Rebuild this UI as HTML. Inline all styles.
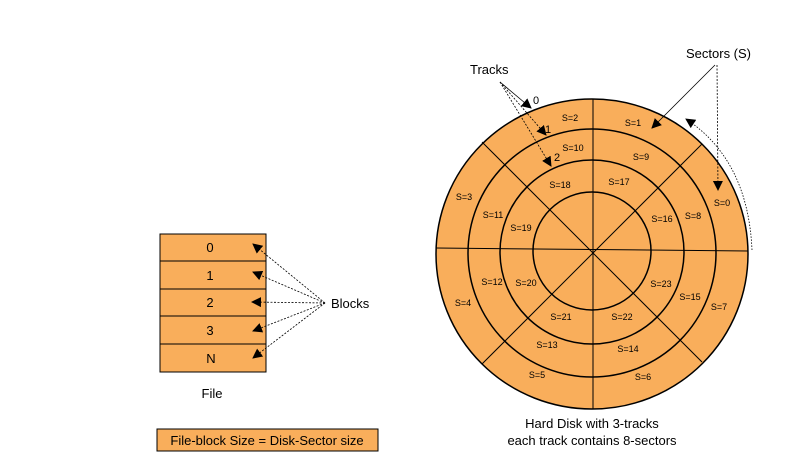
<!DOCTYPE html>
<html><head><meta charset="utf-8"><style>
body{margin:0;background:#fff}
svg{display:block;font-family:"Liberation Sans",Arial,sans-serif}
</style></head><body>
<svg width="803" height="467" viewBox="0 0 803 467">
<defs>
<marker id="ah" viewBox="0 0 10 10" refX="9" refY="5" markerWidth="10" markerHeight="10" markerUnits="userSpaceOnUse" orient="auto"><path d="M0,0L10,5L0,10z" fill="#000"/></marker>
</defs>
<g fill="#f9ae5b" stroke="#000" stroke-width="1">
<rect x="160" y="234" width="106" height="27"/>
<rect x="160" y="261" width="106" height="28"/>
<rect x="160" y="289" width="106" height="27"/>
<rect x="160" y="316" width="106" height="28"/>
<rect x="160" y="344" width="106" height="28"/>
</g>
<g font-size="13" text-anchor="middle">
<text x="210" y="252">0</text><text x="210" y="280">1</text><text x="210" y="307">2</text><text x="210" y="335">3</text><text x="211" y="363">N</text>
</g>
<g stroke="#000" stroke-dasharray="2,1.5" stroke-width="0.8" marker-end="url(#ah)">
<line x1="325" y1="303" x2="253" y2="244"/>
<line x1="325" y1="303" x2="253" y2="272"/>
<line x1="325" y1="303" x2="252" y2="302"/>
<line x1="325" y1="303" x2="253" y2="331"/>
<line x1="325" y1="303" x2="253" y2="358"/>
</g>
<text x="331" y="308" font-size="13">Blocks</text>
<text x="212" y="398" font-size="13" text-anchor="middle">File</text>
<rect x="157" y="429" width="221" height="22" fill="#f9ae5b" stroke="#000"/>
<text x="267" y="445" font-size="13" text-anchor="middle">File-block Size = Disk-Sector size</text>

<g stroke="#000" fill="#f9ae5b">
<ellipse cx="592" cy="254" rx="156" ry="155" stroke-width="1.5"/>
<circle cx="592" cy="253" r="124" stroke-width="1.5"/>
<circle cx="592" cy="252" r="92" stroke-width="1.5"/>
<circle cx="592" cy="251" r="59" stroke-width="1.5"/>
<line x1="593" y1="99" x2="593" y2="409"/>
<line x1="436" y1="248" x2="748" y2="251"/>
<line x1="482" y1="142" x2="702" y2="362"/>
<line x1="702" y1="144" x2="482" y2="364"/>
</g>
<g font-size="9" text-anchor="middle">
<text x="570" y="121">S=2</text><text x="633" y="126">S=1</text><text x="722" y="206">S=0</text>
<text x="464" y="200">S=3</text><text x="573" y="151">S=10</text><text x="641" y="160">S=9</text>
<text x="493" y="218">S=11</text><text x="560" y="188">S=18</text><text x="619" y="185">S=17</text>
<text x="521" y="231">S=19</text><text x="662" y="222">S=16</text><text x="693" y="219">S=8</text>
<text x="463" y="306">S=4</text><text x="492" y="285">S=12</text><text x="526" y="286">S=20</text>
<text x="661" y="287">S=23</text><text x="690" y="300">S=15</text><text x="719" y="310">S=7</text>
<text x="561" y="320">S=21</text><text x="622" y="320">S=22</text>
<text x="547" y="348">S=13</text><text x="628" y="352">S=14</text>
<text x="537" y="378">S=5</text><text x="643" y="380">S=6</text>
</g>
<text x="470" y="74" font-size="13">Tracks</text>
<g font-size="11">
<text x="533" y="104">0</text><text x="545" y="133">1</text><text x="554" y="161">2</text>
</g>
<g stroke="#000" stroke-width="0.8" marker-end="url(#ah)">
<line x1="500" y1="82" x2="531" y2="108"/>
<line x1="500" y1="82" x2="546" y2="135" stroke-dasharray="2,1.5"/>
<line x1="500" y1="82" x2="551" y2="166" stroke-dasharray="2,1.5"/>
</g>
<text x="686" y="58" font-size="13">Sectors (S)</text>
<g stroke="#000" stroke-width="0.8" marker-end="url(#ah)">
<line x1="715" y1="65" x2="652" y2="128"/>
<line x1="717" y1="65" x2="718" y2="190" stroke-dasharray="2,1.5"/>
</g>
<path d="M752,250 Q748,160 686,119" fill="none" stroke="#000" stroke-width="0.8" stroke-dasharray="1.5,1.5" marker-end="url(#ah)"/>
<text x="592" y="428" font-size="13" text-anchor="middle">Hard Disk with 3-tracks</text>
<text x="592" y="445" font-size="13" text-anchor="middle">each track contains 8-sectors</text>
</svg>
</body></html>
